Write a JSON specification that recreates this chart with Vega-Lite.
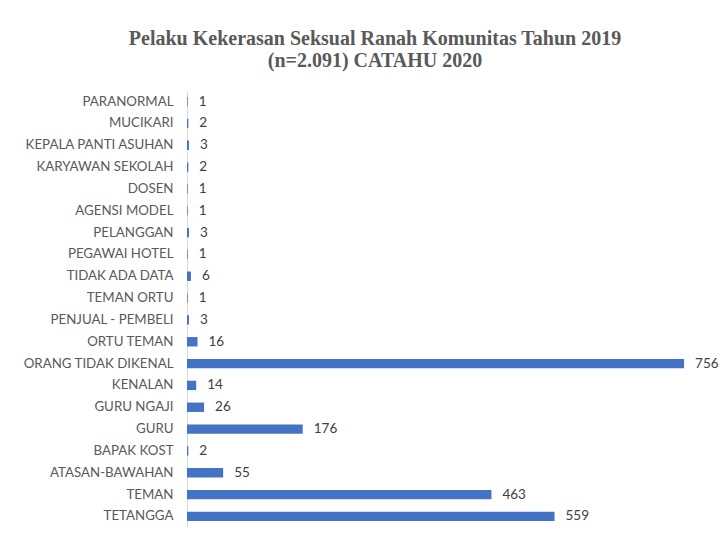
{
  "$schema": "https://vega.github.io/schema/vega-lite/v6.json",
  "width": 526,
  "height": 436,
  "autosize": {"type": "none"},
  "padding": {"left": 187, "top": 91, "right": 7, "bottom": 10},
  "background": "white",
  "title": {
    "text": ["Pelaku Kekerasan Seksual Ranah Komunitas Tahun 2019", "(n=2.091) CATAHU 2020"],
    "font": "Liberation Serif",
    "fontSize": 20,
    "fontWeight": "bold",
    "color": "#595959",
    "anchor": "middle",
    "dx": -75,
    "lineHeight": 22,
    "offset": 20
  },
  "data": {
    "values": [
      {"pelaku": "PARANORMAL", "jumlah": 1},
      {"pelaku": "MUCIKARI", "jumlah": 2},
      {"pelaku": "KEPALA PANTI ASUHAN", "jumlah": 3},
      {"pelaku": "KARYAWAN SEKOLAH", "jumlah": 2},
      {"pelaku": "DOSEN", "jumlah": 1},
      {"pelaku": "AGENSI MODEL ", "jumlah": 1},
      {"pelaku": "PELANGGAN", "jumlah": 3},
      {"pelaku": "PEGAWAI HOTEL", "jumlah": 1},
      {"pelaku": "TIDAK ADA DATA", "jumlah": 6},
      {"pelaku": "TEMAN ORTU", "jumlah": 1},
      {"pelaku": "PENJUAL - PEMBELI", "jumlah": 3},
      {"pelaku": "ORTU TEMAN", "jumlah": 16},
      {"pelaku": "ORANG TIDAK DIKENAL", "jumlah": 756},
      {"pelaku": "KENALAN", "jumlah": 14},
      {"pelaku": "GURU NGAJI", "jumlah": 26},
      {"pelaku": "GURU", "jumlah": 176},
      {"pelaku": "BAPAK KOST", "jumlah": 2},
      {"pelaku": "ATASAN-BAWAHAN", "jumlah": 55},
      {"pelaku": "TEMAN", "jumlah": 463},
      {"pelaku": "TETANGGA", "jumlah": 559}
    ]
  },
  "encoding": {
    "y": {
      "field": "pelaku",
      "type": "nominal",
      "sort": null,
      "scale": {"paddingInner": 0.57, "paddingOuter": 0.27},
      "axis": {
        "title": null,
        "ticks": false,
        "labelPadding": 14,
        "labelFont": "Lato",
        "labelFontSize": 13.3,
        "labelColor": "#595959",
        "domainColor": "#d9d9d9",
        "domainWidth": 1
      }
    },
    "x": {
      "field": "jumlah",
      "type": "quantitative",
      "scale": {"domain": [0, 800], "nice": false},
      "axis": null
    }
  },
  "layer": [
    {"mark": {"type": "bar", "color": "#4472C4"}},
    {
      "mark": {"type": "text", "align": "left", "dx": 11, "font": "Lato", "fontSize": 13.5, "color": "#404040"},
      "encoding": {"text": {"field": "jumlah", "type": "quantitative"}}
    }
  ],
  "config": {"view": {"stroke": null}}
}
